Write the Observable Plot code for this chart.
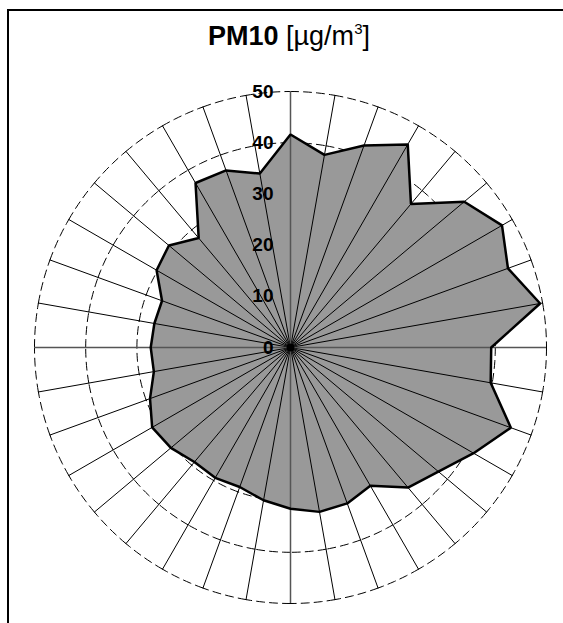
<!DOCTYPE html>
<html>
<head>
<meta charset="utf-8">
<script src="https://cdn.jsdelivr.net/npm/d3@7"></script>
<script src="https://cdn.jsdelivr.net/npm/@observablehq/plot@0.6"></script>
<style>
  body { margin: 0; background: #fff; }
  #wrap { position: relative; width: 563px; height: 623px; overflow: hidden; background: #fff; }
  #chart { position: absolute; left: 0; top: 0; }
  #frame { position: absolute; left: 7px; top: 9px; width: 620px; height: 700px; border: 2.5px solid #000; z-index: 2; }
  #title { position: absolute; left: 0; top: 21px; width: 578px; text-align: center; z-index: 3;
           font-family: "Liberation Sans", Arial, sans-serif; font-size: 27px; color: #000; line-height: 30px; }
  #title b { font-weight: bold; }
  #title sup { font-size: 15px; vertical-align: 0; position: relative; top: -11px; }
</style>
</head>
<body>
<div id="wrap">
  <div id="chart"></div>
  <div id="frame"></div>
  <div id="title"><b>PM10</b> [µg/m<sup>3</sup>]</div>
</div>
<script>
// Wind directions (degrees clockwise from north)
const directions = [0, 10, 20, 30, 40, 50, 60, 70, 80, 90, 100, 110, 120, 130, 140, 150, 160, 170,
                    180, 190, 200, 210, 220, 230, 240, 250, 260, 270, 280, 290, 300, 310, 320, 330, 340, 350];
// PM10 concentration per direction [µg/m3]
const pm10 = [41.6, 38.2, 42.0, 45.8, 36.6, 44.3, 47.7, 45.2, 49.5, 39.2, 39.7, 45.8,
              41.3, 37.7, 35.7, 31.2, 32.4, 32.6, 31.5, 30.3, 29.0, 29.4, 29.2, 30.5,
              31.2, 29.2, 27.1, 27.3, 27.0, 26.7, 30.2, 31.0, 27.9, 37.1, 36.8, 34.5];
// Radial grid rings and tick labels
const rings = [10, 20, 30, 40, 50];
const tickValues = [0, 10, 20, 30, 40, 50];
const tickLabels = ["0", "10", "20", "30", "40", "50"];
const rMax = 50;

const rad = d => d * Math.PI / 180;
const polar = (r, deg) => ({x: r * Math.sin(rad(deg)), y: r * Math.cos(rad(deg))});

const polygon = directions.map((d, i) => polar(pm10[i], d));

const spokes = directions.map(d => {
  const p = polar(rMax, d);
  return {x1: 0, y1: 0, x2: p.x, y2: p.y, dir: d};
});

// ring arcs, one line per sector so the dash pattern restarts at each spoke
const ringPts = [];
rings.forEach(r => {
  directions.forEach(d => {
    for (let a = 0; a <= 10; a++) {
      const p = polar(r, d + a);
      ringPts.push({x: p.x, y: p.y, key: r + "-" + d});
    }
  });
});

const labels = tickValues.map((v, i) => ({v, t: tickLabels[i]}));

const chart = Plot.plot({
  width: 563,
  height: 623,
  marginLeft: 34,
  marginRight: 17,
  marginTop: 91,
  marginBottom: 20,
  x: {domain: [-rMax, rMax], axis: null},
  y: {domain: [-rMax, rMax], axis: null},
  style: {background: "transparent", overflow: "visible"},
  marks: [
    Plot.line(ringPts, {x: "x", y: "y", z: "key", stroke: "#000", strokeWidth: 1, strokeDasharray: "8,5", curve: "linear"}),
    Plot.line(polygon, {x: "x", y: "y", curve: "linear-closed", fill: "#999999", stroke: "none"}),
    Plot.link(spokes.filter(s => s.dir % 90 !== 0), {x1: "x1", y1: "y1", x2: "x2", y2: "y2", stroke: "#000", strokeWidth: 1}),
    Plot.ruleX([0], {y1: -rMax, y2: rMax, stroke: "#555", strokeWidth: 1.5}),
    Plot.ruleY([0], {x1: -rMax, x2: rMax, stroke: "#555", strokeWidth: 1.5}),
    Plot.line(polygon, {x: "x", y: "y", curve: "linear-closed", fill: "none", stroke: "#000", strokeWidth: 2.5, strokeLinejoin: "miter"}),
    Plot.dot([{x: 0, y: 0}], {x: "x", y: "y", r: 4, fill: "#000"}),
    Plot.text(labels, {x: () => 0, y: "v", text: "t", textAnchor: "end", dx: -17, fontSize: 19, fontWeight: "bold",
                       fontFamily: "Liberation Sans, Arial, sans-serif", fill: "#000"})
  ]
});
document.getElementById("chart").appendChild(chart);
</script>
</body>
</html>
